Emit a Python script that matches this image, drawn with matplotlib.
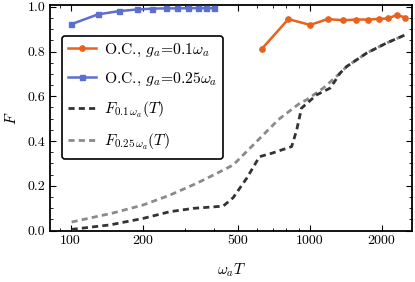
import matplotlib
matplotlib.use("Agg")
import matplotlib.pyplot as plt
from matplotlib.ticker import FixedLocator, NullFormatter, MultipleLocator

# optimal control points, g_a = 0.1 omega_a
oc1_T = [630, 815, 1005, 1190, 1385, 1570, 1755, 1950, 2130, 2320, 2510]
oc1_F = [0.811, 0.945, 0.919, 0.945, 0.940, 0.943, 0.943, 0.946, 0.948, 0.964, 0.952]

# optimal control points, g_a = 0.25 omega_a
oc2_T = [100, 130, 160, 190, 220, 250, 280, 310, 340, 370, 400]
oc2_F = [0.921, 0.966, 0.981, 0.988, 0.992, 0.993, 0.993, 0.994, 0.994, 0.994, 0.994]

# F_{0.1 omega_a}(T)
f1_T = [101, 146, 201, 260, 326, 435, 479, 545, 617, 693, 841, 883, 925,
        1069, 1216, 1273, 1340, 1429, 1732, 2098, 2506]
f1_F = [0.005, 0.025, 0.054, 0.084, 0.099, 0.109, 0.147, 0.233, 0.330, 0.345,
        0.375, 0.449, 0.547, 0.606, 0.636, 0.666, 0.703, 0.733, 0.793, 0.838, 0.874]

# F_{0.25 omega_a}(T)
f2_T = [101, 150, 201, 260, 337, 408, 479, 704, 751, 910, 970, 1139,
        1340, 1429, 1732, 2098, 2506]
f2_F = [0.038, 0.078, 0.114, 0.158, 0.211, 0.255, 0.293, 0.472, 0.501, 0.569,
        0.584, 0.636, 0.703, 0.733, 0.793, 0.838, 0.874]

x_ticks = [100, 200, 500, 1000, 2000]
x_minor = [90, 300, 400, 600, 700, 800, 900]

plt.rcParams['font.family'] = 'cmr10'
plt.rcParams['mathtext.fontset'] = 'cm'
plt.rcParams['axes.formatter.use_mathtext'] = True
plt.rcParams['font.size'] = 10

orange = '#e8621d'
blue = '#5b6fcf'
dark = '#333333'
light = '#8a8a8a'

fig = plt.figure(figsize=(4.15, 2.82), dpi=100)
ax = fig.add_axes([0.1205, 0.1826, 0.873, 0.798])

ax.plot(oc1_T, oc1_F, color=orange, lw=1.8, marker='o', ms=3.8,
        label=r'O.C., $g_a$=0.1$\omega_a$', zorder=4)
ax.plot(oc2_T, oc2_F, color=blue, lw=1.8, marker='s', ms=3.6,
        label=r'O.C., $g_a$=0.25$\omega_a$', zorder=4)
ax.plot(f1_T, f1_F, color=dark, lw=2.0, dashes=(2.2, 1.5),
        label=r'$F_{0.1\,\omega_a}(T)$', zorder=3)
ax.plot(f2_T, f2_F, color=light, lw=2.0, dashes=(2.2, 1.5),
        label=r'$F_{0.25\,\omega_a}(T)$', zorder=2)

ax.set_xscale('log')
ax.set_xlim(82, 2690)
ax.set_ylim(0, 1.006)

ax.xaxis.set_major_locator(FixedLocator(x_ticks))
ax.set_xticklabels([str(t) for t in x_ticks])
ax.xaxis.set_minor_locator(FixedLocator(x_minor))
ax.xaxis.set_minor_formatter(NullFormatter())
ax.yaxis.set_major_locator(MultipleLocator(0.2))
ax.yaxis.set_minor_locator(MultipleLocator(0.05))
ax.set_yticklabels(['%.1f' % v for v in ax.get_yticks()])

ax.tick_params(which='both', direction='in', top=True, right=True)
ax.tick_params(which='major', length=4, width=0.8)
ax.tick_params(which='minor', length=2, width=0.6)
for s in ax.spines.values():
    s.set_linewidth(1.3)

ax.set_xlabel(r'$\omega_a T$', labelpad=10, fontsize=11)
ax.set_ylabel(r'$F$', labelpad=6, fontsize=11)

leg = ax.legend(loc='upper left', bbox_to_anchor=(0.033, 0.866), borderaxespad=0,
                frameon=True, fancybox=True, edgecolor='black', framealpha=1,
                handlelength=1.75, handletextpad=0.5, labelspacing=0.75,
                borderpad=0.4, fontsize=11.3)
leg.get_frame().set_linewidth(1.2)

fig.savefig('out.png', dpi=100)
